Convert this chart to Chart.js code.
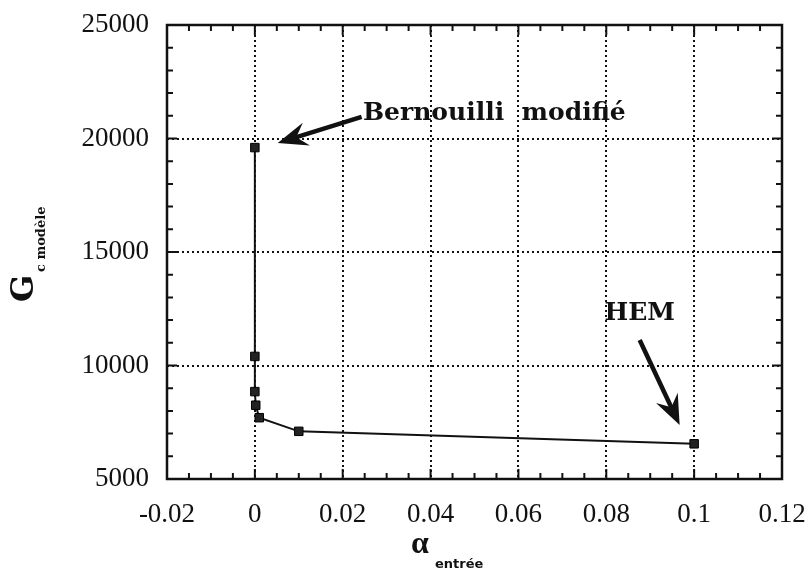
<!DOCTYPE html>
<html>
<head>
<meta charset="utf-8">
<script src="https://cdn.jsdelivr.net/npm/chart.js@4"></script>
<style>
  html, body { margin: 0; padding: 0; background: #fff; }
  #wrap { width: 807px; height: 569px; }
</style>
</head>
<body>
<div id="wrap"><canvas id="gcChart" width="807" height="569"></canvas></div>
<script>
// alpha entree (x) and G c modele (y)
const alphaEntree = [0, 0, 0, 0.0002, 0.001, 0.01, 0.1];
const gcModele = [19600, 10400, 8850, 8250, 7700, 7100, 6550];

const xTicks = [-0.02, 0, 0.02, 0.04, 0.06, 0.08, 0.1, 0.12];
const yTicks = [5000, 10000, 15000, 20000, 25000];

const tickFont = { family: "Liberation Serif", size: 27 };
const noteFont = "bold 25px 'DejaVu Serif'";

const points = alphaEntree.map((a, i) => ({ x: a, y: gcModele[i] }));

// arrows and notes, placed in data units
const notes = [
    { text: "Bernouilli  modifié", x: 0.0246, y: 21080 },
    { text: "HEM", x: 0.0796, y: 12270 }
];
const arrows = [
    { from: [0.0243, 20950], to: [0.0052, 19800] },
    { from: [0.0876, 11120], to: [0.0967, 7380] }
];

function drawArrow(ctx, x1, y1, x2, y2) {
    const ang = Math.atan2(y2 - y1, x2 - x1);
    const len = 30, wing = 12;
    ctx.save();
    ctx.strokeStyle = "#111";
    ctx.fillStyle = "#111";
    ctx.lineWidth = 4.5;
    ctx.beginPath();
    ctx.moveTo(x1, y1);
    ctx.lineTo(x2 - Math.cos(ang) * len * 0.6, y2 - Math.sin(ang) * len * 0.6);
    ctx.stroke();
    ctx.translate(x2, y2);
    ctx.rotate(ang);
    ctx.beginPath();
    ctx.moveTo(0, 0);
    ctx.lineTo(-len, -wing);
    ctx.lineTo(-len * 0.65, 0);
    ctx.lineTo(-len, wing);
    ctx.closePath();
    ctx.fill();
    ctx.restore();
}

const framePlugin = {
    id: "frame",
    afterDatasetsDraw(chart) {
        const { ctx, chartArea: a, scales: { x, y } } = chart;
        ctx.save();
        ctx.strokeStyle = "#111";
        ctx.lineWidth = 2.5;
        ctx.strokeRect(a.left, a.top, a.right - a.left, a.bottom - a.top);

        ctx.lineWidth = 2;
        ctx.beginPath();
        for (let v = -0.02; v <= 0.1201; v += 0.005) {
            const px = x.getPixelForValue(v);
            const major = Math.abs(v / 0.02 - Math.round(v / 0.02)) < 1e-6;
            const l = major ? 10 : 6;
            ctx.moveTo(px, a.bottom); ctx.lineTo(px, a.bottom - l);
            ctx.moveTo(px, a.top); ctx.lineTo(px, a.top + l);
        }
        for (let v = 5000; v <= 25000; v += 1000) {
            const py = y.getPixelForValue(v);
            const l = v % 5000 === 0 ? 10 : 6;
            ctx.moveTo(a.left, py); ctx.lineTo(a.left + l, py);
            ctx.moveTo(a.right, py); ctx.lineTo(a.right - l, py);
        }
        ctx.stroke();

        // notes and arrows
        ctx.fillStyle = "#111";
        ctx.font = noteFont;
        ctx.textBaseline = "middle";
        ctx.textAlign = "left";
        notes.forEach(n => ctx.fillText(n.text, x.getPixelForValue(n.x), y.getPixelForValue(n.y)));
        arrows.forEach(r => drawArrow(ctx,
            x.getPixelForValue(r.from[0]), y.getPixelForValue(r.from[1]),
            x.getPixelForValue(r.to[0]), y.getPixelForValue(r.to[1])));

        // axis titles
        ctx.textBaseline = "alphabetic";
        ctx.font = "bold 32px 'Liberation Serif'";
        ctx.fillText("α", 411, 553);
        ctx.font = "bold 13px 'DejaVu Sans'";
        ctx.fillText("entrée", 435, 568);

        ctx.translate(33, 302);
        ctx.rotate(-Math.PI / 2);
        ctx.font = "bold 32px 'DejaVu Serif'";
        ctx.fillText("G", 0, 0);
        ctx.font = "bold 13px 'DejaVu Serif'";
        ctx.fillText("c modèle", 30, 12);
        ctx.restore();
    }
};

new Chart(document.getElementById("gcChart"), {
    type: "scatter",
    data: {
        datasets: [{
            data: points,
            showLine: true,
            borderColor: "#111",
            borderWidth: 2,
            backgroundColor: "#222",
            pointStyle: "rect",
            pointRadius: 6,
            pointBorderColor: "#000",
            pointBorderWidth: 1
        }]
    },
    options: {
        responsive: false,
        animation: false,
        layout: { padding: { left: 0, right: 25, top: 25, bottom: 0 } },
        plugins: { legend: { display: false }, tooltip: { enabled: false } },
        scales: {
            x: {
                type: "linear",
                min: -0.02,
                max: 0.12,
                afterBuildTicks: s => { s.ticks = xTicks.map(v => ({ value: v })); },
                afterFit: s => { s.height = 90; s.paddingLeft = 0; s.paddingRight = 0; },
                border: { display: false, dash: [2, 3] },
                grid: { color: "#111", lineWidth: 2, drawTicks: false },
                ticks: {
                    color: "#111",
                    font: tickFont,
                    padding: 20,
                    maxRotation: 0,
                    callback: v => String(+v.toFixed(2))
                }
            },
            y: {
                type: "linear",
                min: 5000,
                max: 25000,
                afterBuildTicks: s => { s.ticks = yTicks.map(v => ({ value: v })); },
                afterFit: s => { s.width = 167; s.paddingTop = 0; s.paddingBottom = 0; },
                border: { display: false, dash: [2, 3] },
                grid: { color: "#111", lineWidth: 2, drawTicks: false },
                ticks: {
                    color: "#111",
                    font: tickFont,
                    padding: 18,
                    callback: v => String(v)
                }
            }
        }
    },
    plugins: [framePlugin]
});
</script>
</body>
</html>
